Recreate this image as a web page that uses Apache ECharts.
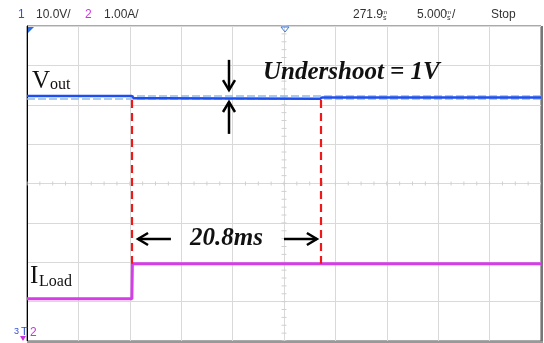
<!DOCTYPE html>
<html>
<head>
<meta charset="utf-8">
<script src="https://cdn.jsdelivr.net/npm/echarts@6/dist/echarts.min.js"></script>
<style>html,body{margin:0;padding:0;background:#fff;}#c{width:544px;height:343px;}</style>
</head>
<body>
<div id="c"></div>
<script>
// ---- data ----
// time axis: 5 ms/div, 10 divisions
const timeMin = 0, timeMax = 50, timeDiv = 5;
// Vout trace (10 V/div)
const voutTime = [0, 10.2, 10.4, 13.0, 13.1, 28.5, 28.7, 50];
const voutVolt = [12.2, 12.2, 11.65, 11.65, 11.5, 11.5, 11.85, 11.85];
// horizontal cursors on Vout (V)
const cursorVolt = [12.38, 11.45];
// load current trace (1 A/div)
const iloadTime = [0, 10.2, 10.25, 50];
const iloadAmp = [1.07, 1.07, 1.96, 1.96];
// red dashed time markers (ms) and their vertical extent (divisions from centre)
const markerTime = [10.2, 28.6];
const markerSpan = [2.12, -2.04];
// annotation arrows: [x1, y1, x2(head), y2(head)] in ms / divisions from centre
const arrows = [
  [19.65, 3.14, 19.65, 2.37],
  [19.65, 1.26, 19.65, 2.07],
  [14.0, -1.41, 10.8, -1.41],
  [25.0, -1.41, 28.2, -1.41]
];
// header readouts
const headerCh1 = ['1', '10.0V/'];
const headerCh2 = ['2', '1.00A/'];
const headerPos = '271.9';
const headerScale = '5.000';
const headerState = 'Stop';

const chart = echarts.init(document.getElementById('c'), null, {renderer: 'canvas'});

const voutData = voutTime.map((t, i) => [t, voutVolt[i]]);
const iloadData = iloadTime.map((t, i) => [t, iloadAmp[i]]);

function arrowItem(params, api) {
  const p1 = api.coord([api.value(0), api.value(1)]);
  const p2 = api.coord([api.value(2), api.value(3)]);
  const dx = p2[0] - p1[0], dy = p2[1] - p1[1];
  const L = Math.hypot(dx, dy) || 1;
  const ux = dx / L, uy = dy / L, px = -uy, py = ux;
  const h = 10, w = 6;
  const a = [p2[0] - ux * h + px * w, p2[1] - uy * h + py * w];
  const b = [p2[0] - ux * h - px * w, p2[1] - uy * h - py * w];
  return {
    type: 'group',
    children: [
      {type: 'line', shape: {x1: p1[0], y1: p1[1], x2: p2[0], y2: p2[1]}, style: {stroke: '#000', lineWidth: 2.5}},
      {type: 'polyline', shape: {points: [a, p2, b]}, style: {stroke: '#000', lineWidth: 2.5, fill: null}}
    ]
  };
}

function ticksItem(params, api) {
  const children = [];
  const nx = (timeMax - timeMin) / timeDiv * 4;
  for (let k = 0; k <= nx; k++) {
    const p = api.coord([timeMin + k * timeDiv / 4, 0]);
    children.push({type: 'line', shape: {x1: p[0], y1: p[1] - 2, x2: p[0], y2: p[1] + 2}, style: {stroke: '#d0d0d0', lineWidth: 1}});
  }
  for (let k = 0; k <= 40; k++) {
    const p = api.coord([(timeMin + timeMax) / 2, -4 + k * 0.2]);
    children.push({type: 'line', shape: {x1: p[0] - 2.5, y1: p[1], x2: p[0] + 2.5, y2: p[1]}, style: {stroke: '#d0d0d0', lineWidth: 1}});
  }
  return {type: 'group', children};
}

const hdrFont = '12px "Liberation Sans", Arial, sans-serif';
const serif = '"Liberation Serif", "Times New Roman", serif';

const option = {
  animation: false,
  backgroundColor: '#fff',
  grid: {left: 27, top: 26, right: 3, bottom: 2, show: true, borderColor: '#555', borderWidth: 1},
  xAxis: [{
    type: 'value', min: timeMin, max: timeMax, interval: timeDiv,
    axisLabel: {show: false}, axisTick: {show: false}, axisLine: {show: false},
    splitLine: {show: true, lineStyle: {color: '#d9d9d9', width: 1}}
  }],
  yAxis: [{
    type: 'value', min: -50, max: 30, interval: 10,
    axisLabel: {show: false}, axisTick: {show: false},
    axisLine: {show: true, lineStyle: {color: '#000', width: 1}},
    splitLine: {show: true, lineStyle: {color: '#d9d9d9', width: 1}}
  }, {
    type: 'value', min: 0, max: 8, show: false, splitLine: {show: false}
  }, {
    type: 'value', min: -4, max: 4, show: false, splitLine: {show: false}
  }],
  series: [{
    type: 'custom', name: 'ticks', xAxisIndex: 0, yAxisIndex: 2,
    renderItem: ticksItem, data: [[0, 0]], silent: true, z: 1
  }, {
    type: 'line', name: 'cursors', xAxisIndex: 0, yAxisIndex: 0, data: [], z: 2,
    markLine: {
      silent: true, symbol: 'none', label: {show: false}, z: 2,
      lineStyle: {color: '#8dbcf5', type: [8, 3], width: 1.5},
      data: cursorVolt.map(v => ({yAxis: v}))
    }
  }, {
    type: 'line', name: 'Vout', xAxisIndex: 0, yAxisIndex: 0,
    data: voutData, showSymbol: false, symbol: 'none',
    lineStyle: {color: '#1f4ef0', width: 2.5}, z: 4
  }, {
    type: 'line', name: 'Iload', xAxisIndex: 0, yAxisIndex: 1,
    data: iloadData, showSymbol: false, symbol: 'none',
    lineStyle: {color: '#d43de8', width: 3}, z: 4
  }, {
    type: 'line', name: 'markers', xAxisIndex: 0, yAxisIndex: 2, data: [],
    markLine: {
      silent: true, symbol: 'none', label: {show: false},
      lineStyle: {color: '#f01818', type: [8, 5], width: 2.2},
      data: markerTime.map(t => [{coord: [t, markerSpan[0]]}, {coord: [t, markerSpan[1]]}])
    }, z: 5
  }, {
    type: 'custom', name: 'arrows', xAxisIndex: 0, yAxisIndex: 2,
    renderItem: arrowItem, data: arrows, silent: true, z: 6
  }],
  graphic: {elements: [
    // header
    {type: 'text', z: 100, left: 18, top: 9, style: {text: headerCh1[0], font: hdrFont, fill: '#3050d0'}},
    {type: 'text', z: 100, left: 36, top: 9, style: {text: headerCh1[1], font: hdrFont, fill: '#333'}},
    {type: 'text', z: 100, left: 85, top: 9, style: {text: headerCh2[0], font: hdrFont, fill: '#cc33e0'}},
    {type: 'text', z: 100, left: 104, top: 9, style: {text: headerCh2[1], font: hdrFont, fill: '#333'}},
    {type: 'text', z: 100, left: 353, top: 9, style: {text: headerPos, font: hdrFont, fill: '#333'}},
    {type: 'text', z: 100, left: 382, top: 9, style: {text: 'm', font: '6px "Liberation Sans", sans-serif', fill: '#333'}},
    {type: 'text', z: 100, left: 383, top: 15, style: {text: 's', font: '7px "Liberation Sans", sans-serif', fill: '#333'}},
    {type: 'text', z: 100, left: 417, top: 9, style: {text: headerScale, font: hdrFont, fill: '#333'}},
    {type: 'text', z: 100, left: 446, top: 9, style: {text: 'm', font: '6px "Liberation Sans", sans-serif', fill: '#333'}},
    {type: 'text', z: 100, left: 447, top: 15, style: {text: 's', font: '7px "Liberation Sans", sans-serif', fill: '#333'}},
    {type: 'text', z: 100, left: 452, top: 9, style: {text: '/', font: hdrFont, fill: '#333'}},
    {type: 'text', z: 100, left: 491, top: 9, style: {text: headerState, font: hdrFont, fill: '#333'}},
    // markers on the frame
    {type: 'polygon', z: 100, shape: {points: [[28, 27], [34, 27], [28, 33]]}, style: {fill: '#2a6de8'}},
    {type: 'polygon', z: 100, shape: {points: [[281, 27], [289, 27], [285, 32]]}, style: {fill: 'none', stroke: '#3a7be8', lineWidth: 1}},
    {type: 'text', z: 100, left: 21, top: 326, style: {text: 'T', font: '11px "Liberation Sans", sans-serif', fill: '#3050d0'}},
    {type: 'text', z: 100, left: 14, top: 327, style: {text: '3', font: '9px "Liberation Sans", sans-serif', fill: '#3050d0'}},
    {type: 'polygon', z: 100, shape: {points: [[20, 336], [26, 336], [23, 341]]}, style: {fill: '#cc33e0'}},
    {type: 'text', z: 100, left: 30, top: 327, style: {text: '2', font: '12px "Liberation Sans", sans-serif', fill: '#cc33e0'}},
    // right / bottom frame emphasis
    {type: 'line', z: 100, shape: {x1: 542, y1: 26, x2: 542, y2: 343}, style: {stroke: '#777', lineWidth: 2}},
    {type: 'line', z: 100, shape: {x1: 27, y1: 342, x2: 543, y2: 342}, style: {stroke: '#999', lineWidth: 2}},
    // annotations
    {type: 'text', z: 100, x: 32, y: 81, style: {text: 'V', font: '25px ' + serif, fill: '#111', verticalAlign: 'middle'}},
    {type: 'text', z: 100, x: 50, y: 85, style: {text: 'out', font: '16px ' + serif, fill: '#111', verticalAlign: 'middle'}},
    {type: 'text', z: 100, x: 30, y: 276, style: {text: 'I', font: '25px ' + serif, fill: '#111', verticalAlign: 'middle'}},
    {type: 'text', z: 100, x: 39, y: 282, style: {text: 'Load', font: '16px ' + serif, fill: '#111', verticalAlign: 'middle'}},
    {type: 'text', z: 100, x: 263, y: 73, style: {text: 'Undershoot = 1V', font: 'italic bold 25px ' + serif, fill: '#111', verticalAlign: 'middle'}},
    {type: 'text', z: 100, x: 190, y: 239, style: {text: '20.8ms', font: 'italic bold 25px ' + serif, fill: '#111', verticalAlign: 'middle'}}
  ]}
};
chart.setOption(option);
</script>
</body>
</html>
